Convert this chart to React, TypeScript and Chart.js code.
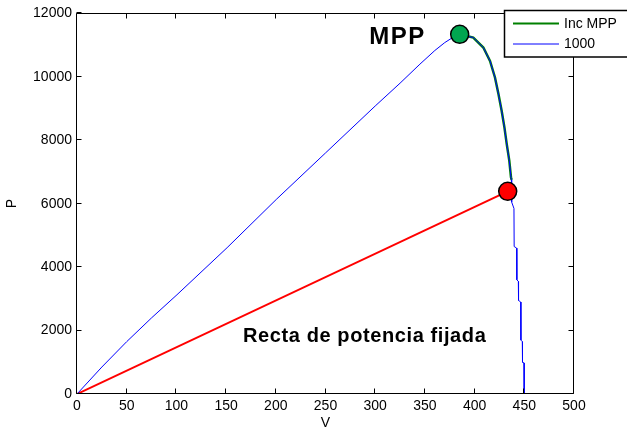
import React, { useEffect, useRef } from "react";
import { Chart, registerables } from "chart.js";

Chart.register(...registerables);

// P-V curve of the array at 1000 W/m2
const curveVoltage = [
  0, 25, 50, 75, 100.6, 151, 201, 250, 300, 325, 345, 360, 370, 378, 385,
  398.7, 408.8, 415.5, 420.5, 424, 427.2, 430, 432.3, 434.9, 436.6, 437, 437.3,
  439.6, 439.8, 442.3, 442.5, 444, 444.2, 446.4, 446.6, 448, 448.2, 449.7, 449.9,
];
const curvePower = [
  0, 850, 1650, 2400, 3130, 4613, 6150, 7600, 9080, 9800, 10400, 10830, 11080, 11240, 11340,
  11238, 10923, 10504, 9980, 9457, 8932, 8407, 7885, 7359, 6834, 6750, 6050,
  5850, 4650, 4600, 3600, 3550, 2950, 2900, 1700, 1650, 1000, 980, 0,
];

// Incremental-conductance tracking path
const trackVoltage = [385, 398.7, 408.8, 415.5, 420.5, 424, 427.2, 430, 432.3, 434.9, 436.6, 437.3];
const trackPower = [11340, 11238, 10923, 10504, 9980, 9457, 8932, 8407, 7885, 7359, 6834, 6750];

// Fixed power line and the two operating points
const fixedLineVoltage = [0, 433.3];
const fixedLinePower = [0, 6390];
const mppVoltage = 385;
const mppPower = 11340;
const fixedVoltage = 433.3;
const fixedPower = 6390;

const seriesLabels = ["Inc MPP", "1000"];
const xMin = 0, xMax = 500, xStep = 50;
const yMin = 0, yMax = 12000, yStep = 2000;

const FONT = "'Liberation Sans', Arial, Helvetica, sans-serif";

const toPoints = (xs: number[], ys: number[]) => xs.map((x, i) => ({ x, y: ys[i] }));

const framePlugin = {
  id: "frame",
  afterDatasetsDraw(chart: any) {
    const { ctx, chartArea: a, scales } = chart;
    const L = Math.floor(a.left) - 0.5;
    const R = Math.floor(a.right) - 0.5;
    const T = Math.floor(a.top) + 0.5;
    const B = Math.floor(a.bottom) - 0.5;
    ctx.save();
    ctx.strokeStyle = "#000";
    ctx.lineWidth = 1;
    ctx.beginPath();
    ctx.rect(L, T, R - L, B - T);
    const tick = 5;
    for (let v = xMin; v <= xMax; v += xStep) {
      const px = Math.round(scales.x.getPixelForValue(v)) - 0.5;
      ctx.moveTo(px, B);
      ctx.lineTo(px, B - tick);
      ctx.moveTo(px, T);
      ctx.lineTo(px, T + tick);
    }
    for (let v = yMin; v <= yMax; v += yStep) {
      const py = Math.round(scales.y.getPixelForValue(v)) - 0.5;
      ctx.moveTo(L, py);
      ctx.lineTo(L + tick, py);
      ctx.moveTo(R, py);
      ctx.lineTo(R - tick, py);
    }
    ctx.stroke();

    // text labels on the plot
    ctx.fillStyle = "#000";
    ctx.textBaseline = "alphabetic";
    ctx.textAlign = "left";
    ctx.font = `bold 24px ${FONT}`;
    (ctx as any).letterSpacing = "1.5px";
    ctx.fillText("MPP", scales.x.getPixelForValue(294), scales.y.getPixelForValue(11040));
    ctx.font = `bold 20px ${FONT}`;
    (ctx as any).letterSpacing = "0.6px";
    ctx.fillText(
      "Recta de potencia fijada",
      scales.x.getPixelForValue(167),
      scales.y.getPixelForValue(1635)
    );
    (ctx as any).letterSpacing = "0px";
    ctx.restore();
  },
  afterDraw(chart: any) {
    const { ctx } = chart;
    const ds = chart.data.datasets;
    ctx.save();
    ctx.fillStyle = "#fff";
    ctx.strokeStyle = "#000";
    ctx.lineWidth = 1.5;
    ctx.fillRect(504, 10, 140, 47);
    ctx.strokeRect(504.5, 10.5, 140, 46.5);
    const rows = [
      { y: 23.5, color: ds[0].borderColor, width: 2, text: ds[0].label },
      { y: 44, color: ds[1].borderColor, width: 1, text: ds[1].label },
    ];
    ctx.font = `14px ${FONT}`;
    ctx.textBaseline = "middle";
    ctx.textAlign = "left";
    for (const r of rows) {
      ctx.strokeStyle = r.color;
      ctx.lineWidth = r.width;
      ctx.beginPath();
      ctx.moveTo(513, r.y);
      ctx.lineTo(559, r.y);
      ctx.stroke();
      ctx.fillStyle = "#000";
      ctx.fillText(r.text, 564, r.y + 0.5);
    }
    ctx.restore();
  },
};

export default function App() {
  const canvasRef = useRef<HTMLCanvasElement | null>(null);

  useEffect(() => {
    if (!canvasRef.current) return;
    const chart = new Chart(canvasRef.current, {
      type: "scatter",
      data: {
        datasets: [
          {
            label: seriesLabels[0],
            data: toPoints(trackVoltage, trackPower),
            showLine: true,
            borderColor: "#008000",
            borderWidth: 2.5,
            pointRadius: 0,
            order: 2,
          },
          {
            label: seriesLabels[1],
            data: toPoints(curveVoltage, curvePower),
            showLine: true,
            borderColor: "#0000ff",
            borderWidth: 1,
            pointRadius: 0,
            order: 1,
          },
          {
            label: "fixed",
            data: toPoints(fixedLineVoltage, fixedLinePower),
            showLine: true,
            borderColor: "#ff0000",
            borderWidth: 2,
            pointRadius: 0,
            order: 3,
          },
          {
            label: "points",
            data: [
              { x: mppVoltage, y: mppPower },
              { x: fixedVoltage, y: fixedPower },
            ],
            showLine: false,
            pointRadius: 9,
            pointBorderWidth: 1.5,
            pointBorderColor: "#000",
            pointBackgroundColor: ["#00a550", "#ff0000"],
            order: 0,
          },
        ],
      },
      options: {
        animation: false,
        responsive: true,
        maintainAspectRatio: false,
        layout: { padding: { top: 12, right: 53, left: 0, bottom: 0 } },
        plugins: { legend: { display: false }, tooltip: { enabled: false } },
        scales: {
          x: {
            type: "linear",
            min: xMin,
            max: xMax,
            grid: { display: false, drawTicks: false, tickLength: 0 },
            border: { display: false },
            ticks: {
              stepSize: xStep,
              color: "#000",
              font: { family: FONT, size: 14 },
              padding: 4,
              maxRotation: 0,
              callback: (v: any) => String(v),
            },
            title: { display: true, text: "V", color: "#000", font: { family: FONT, size: 14 }, padding: { top: 0, bottom: -5 } },
            afterFit: (s: any) => { s.height = 33; },
          },
          y: {
            type: "linear",
            min: yMin,
            max: yMax,
            grid: { display: false, drawTicks: false, tickLength: 0 },
            border: { display: false },
            ticks: {
              stepSize: yStep,
              color: "#000",
              font: { family: FONT, size: 14 },
              padding: 5,
              callback: (v: any) => String(v),
            },
            title: { display: true, text: "P", color: "#000", font: { family: FONT, size: 14 }, padding: { top: 4, bottom: 0 } },
            afterFit: (s: any) => { s.width = 77; },
          },
        },
      },
      plugins: [framePlugin],
    });
    return () => chart.destroy();
  }, []);

  return (
    <div style={{ position: "fixed", left: 0, top: 0, width: 627, height: 427, background: "#fff" }}>
      <canvas ref={canvasRef} />
    </div>
  );
}
